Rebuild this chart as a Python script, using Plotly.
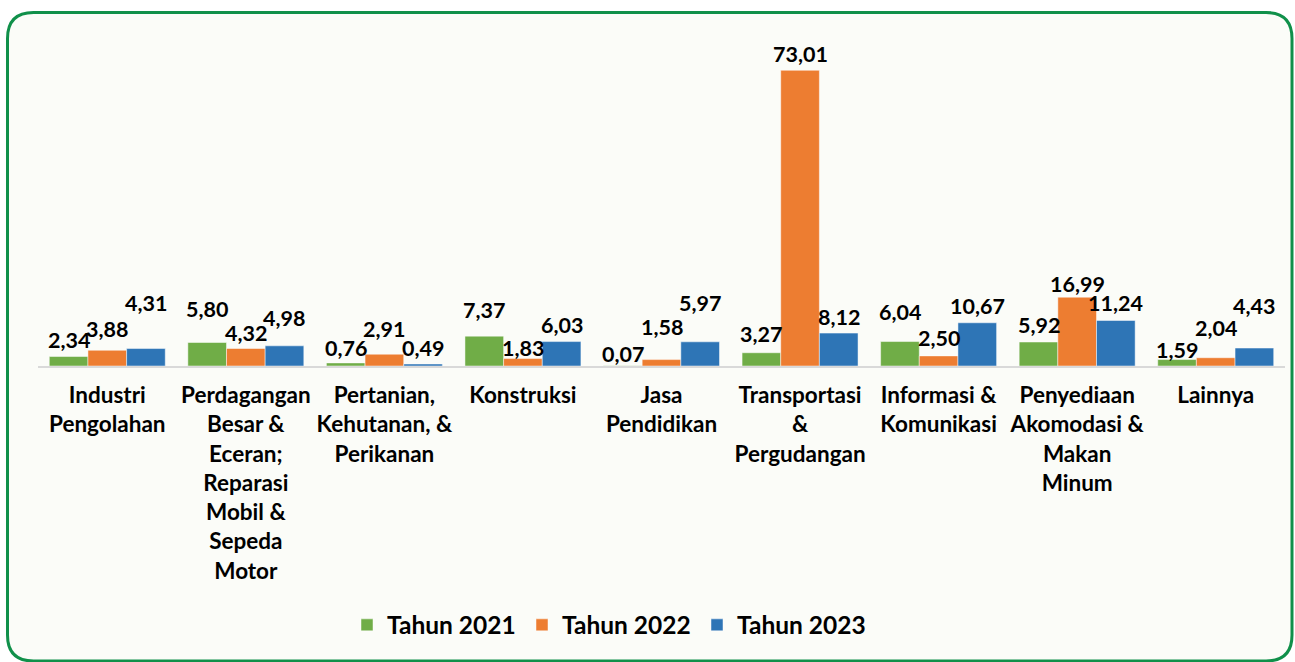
import plotly.graph_objects as go

categories = [
    "Industri<br>Pengolahan",
    "Perdagangan<br>Besar &<br>Eceran;<br>Reparasi<br>Mobil &<br>Sepeda<br>Motor",
    "Pertanian,<br>Kehutanan, &<br>Perikanan",
    "Konstruksi",
    "Jasa<br>Pendidikan",
    "Transportasi<br>&<br>Pergudangan",
    "Informasi &<br>Komunikasi",
    "Penyediaan<br>Akomodasi &<br>Makan<br>Minum",
    "Lainnya",
]
series_names = ["Tahun 2021", "Tahun 2022", "Tahun 2023"]
tahun_2021 = [2.34, 5.80, 0.76, 7.37, 0.07, 3.27, 6.04, 5.92, 1.59]
tahun_2022 = [3.88, 4.32, 2.91, 1.83, 1.58, 73.01, 2.50, 16.99, 2.04]
tahun_2023 = [4.31, 4.98, 0.49, 6.03, 5.97, 8.12, 10.67, 11.24, 4.43]
colors = ["#70AD47", "#ED7D31", "#2E75B6"]

# pixel gap between bar top and label centre (label de-overlap styling)
label_gap_2021 = [17, 34, 15, 26, 12, 19, 30, 17, 10]
label_gap_2022 = [21, 16, 25, 11, 33, 16, 18, 13, 30]
label_gap_2023 = [46, 28, 16, 17, 39, 16, 17, 17, 42]

W, H = 1295, 662
ml, mr, mt, mb = 38, 10, 42, 296
pw, ph = W - ml - mr, H - mt - mb
BARGAP = 0.163

FONT = "Lato"

fig = go.Figure()
all_vals = [tahun_2021, tahun_2022, tahun_2023]
all_gaps = [label_gap_2021, label_gap_2022, label_gap_2023]
for name, vals, col in zip(series_names, all_vals, colors):
    fig.add_trace(go.Bar(
        x=categories, y=vals, name=name,
        marker=dict(color=col, line=dict(color="rgba(255,255,255,0.6)", width=0.8)),
        hoverinfo="x+y",
    ))

bar_px = pw / len(categories) * (1 - BARGAP) / 3
annotations = []
for si, (vals, gaps) in enumerate(zip(all_vals, all_gaps)):
    for cat, v, g in zip(categories, vals, gaps):
        annotations.append(dict(
            x=cat, y=v, xref="x", yref="y",
            text=f"{v:.2f}".replace(".", ","),
            showarrow=False, xanchor="center", yanchor="middle",
            xshift=(si - 1) * bar_px, yshift=g,
            font=dict(family=FONT, size=21.5, color="#000000", weight="bold"),
        ))

# rounded frame in pixel coordinates converted to paper coords
def px(x):
    return (x - ml) / pw
def py(y):
    return (H - mb - y) / ph

x0, y0, x1, y1, r = 7.5, 12.5, 1292, 661, 26
path = (
    f"M {px(x0 + r)},{py(y0)} L {px(x1 - r)},{py(y0)} "
    f"Q {px(x1)},{py(y0)} {px(x1)},{py(y0 + r)} "
    f"L {px(x1)},{py(y1 - r)} Q {px(x1)},{py(y1)} {px(x1 - r)},{py(y1)} "
    f"L {px(x0 + r)},{py(y1)} Q {px(x0)},{py(y1)} {px(x0)},{py(y1 - r)} "
    f"L {px(x0)},{py(y0 + r)} Q {px(x0)},{py(y0)} {px(x0 + r)},{py(y0)} Z"
)

fig.update_layout(
    width=W, height=H,
    margin=dict(l=ml, r=mr, t=mt, b=mb, pad=0),
    paper_bgcolor="#FFFFFF", plot_bgcolor="rgba(0,0,0,0)",
    separators=",.",
    barmode="group", bargap=BARGAP, bargroupgap=0,
    showlegend=True,
    legend=dict(
        orientation="h", xref="paper", x=px(347), xanchor="left",
        yref="container", y=0.056, yanchor="middle",
        font=dict(family=FONT, size=24.5, color="#000000", weight="bold"),
        entrywidth=130, entrywidthmode="pixels", itemwidth=30,
        bgcolor="rgba(0,0,0,0)", traceorder="normal",
    ),
    annotations=annotations,
    shapes=[dict(type="path", xref="paper", yref="paper", path=path,
                 line=dict(color="#10904A", width=3), fillcolor="#FBFCF8",
                 layer="below")],
    xaxis=dict(
        showline=True, linecolor="#D9D9D9", linewidth=2, automargin=False,
        ticks="", showgrid=False, ticklabelstandoff=8,
        tickfont=dict(family=FONT, size=22.5, color="#000000", weight="bold"),
    ),
    yaxis=dict(range=[0, 80], visible=False, showgrid=False, zeroline=False,
               automargin=False),
    font=dict(family=FONT),
)

fig.write_html(
    "out.html",
    config={"displayModeBar": False},
    post_script="document.body.style.margin='0';document.body.style.overflow='hidden';",
)
